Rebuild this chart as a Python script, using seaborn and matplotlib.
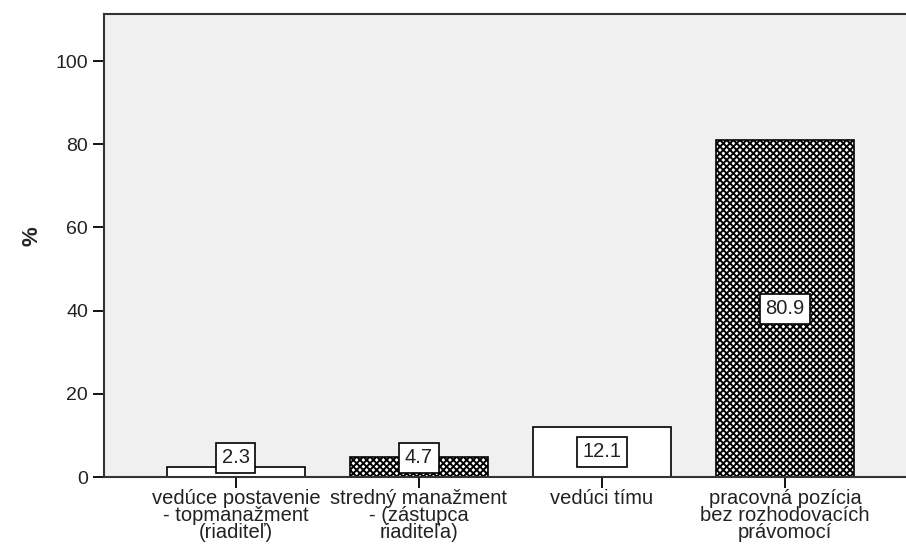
import matplotlib
matplotlib.use("Agg")
import matplotlib.pyplot as plt
import seaborn as sns

# Data
categories = [
    "vedúce postavenie\n- topmanažment\n(riaditeľ)",
    "stredný manažment\n- (zástupca\nriaditeľa)",
    "vedúci tímu",
    "pracovná pozícia\nbez rozhodovacích\nprávomocí",
]
percent = [2.3, 4.7, 12.1, 80.9]
hatched = [False, True, False, True]
yticks = [0, 20, 40, 60, 80, 100]

sns.set_style("white")
plt.rcParams["font.family"] = ["Liberation Sans", "DejaVu Sans"]
plt.rcParams["hatch.linewidth"] = 1.4
plt.rcParams["hatch.color"] = "black"

fig = plt.figure(figsize=(9.06, 5.53), dpi=100)
ax = fig.add_axes([104 / 906, 1 - 477 / 553, 1 - 104 / 906, 463 / 553])
ax.set_facecolor("#F0F0F0")

sns.barplot(x=categories, y=percent, ax=ax, width=0.75, color="white",
            edgecolor="black", linewidth=1.2)

for patch, h in zip(ax.patches, hatched):
    patch.set_facecolor("white")
    if h:
        patch.set_hatch("xxxxx")

# value labels in boxes
for i, v in enumerate(percent):
    ax.text(i, max(v / 2, 4.6), f"{v:.1f}", ha="center", va="center",
            fontsize=14.5, color="#222222",
            bbox=dict(boxstyle="square,pad=0.28", fc="white",
                      ec="black", lw=1.2))

ax.set_xlim(-0.72, 3.66)
ax.set_ylim(0, 111.3)
ax.set_yticks(yticks)
ax.set_yticklabels([str(t) for t in yticks], fontsize=14)
ax.tick_params(axis="both", direction="out", length=8, width=1.3,
               color="black", labelcolor="#222222", left=True, bottom=True)
ax.tick_params(axis="x", labelsize=14.5, pad=1)
for lbl in ax.get_xticklabels():
    lbl.set_linespacing(0.85)

ax.set_ylabel("%", fontsize=16, fontweight="bold")
ax.yaxis.set_label_coords(-0.077, 0.52)
ax.set_xlabel("")

for side in ["left", "top", "bottom"]:
    ax.spines[side].set_visible(True)
    ax.spines[side].set_color("#333333")
    ax.spines[side].set_linewidth(1.5)
ax.spines["right"].set_visible(False)

fig.savefig("out.png", dpi=100)
